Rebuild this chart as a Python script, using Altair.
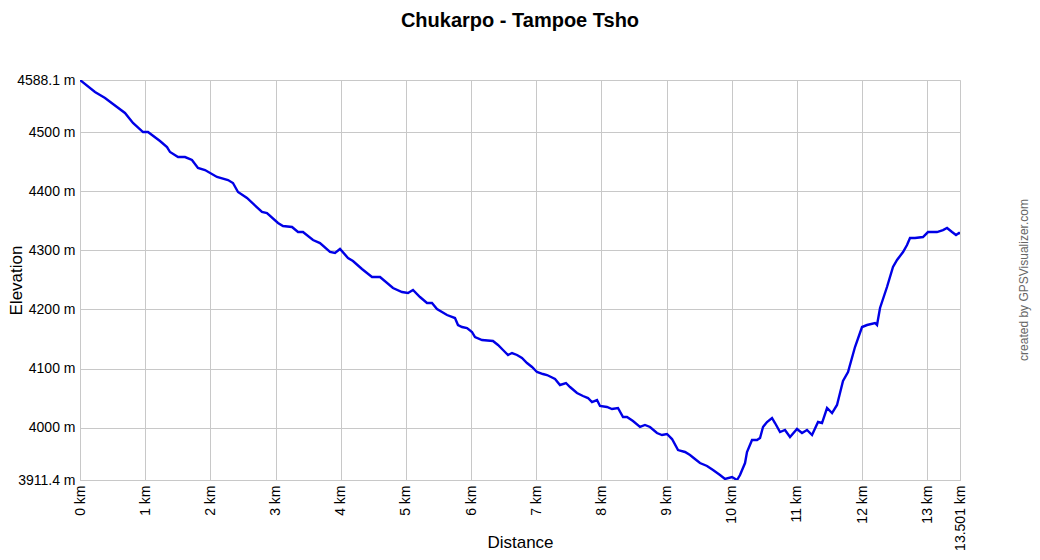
import altair as alt
import pandas as pd

distance_km = [0.000, 0.230, 0.384, 0.506, 0.690, 0.813, 0.967, 1.043, 1.227, 1.335,
               1.381, 1.504, 1.611, 1.718, 1.810, 1.918, 2.102, 2.271, 2.347, 2.424,
               2.562, 2.792, 2.869, 3.038, 3.114, 3.253, 3.345, 3.421, 3.575, 3.682,
               3.836, 3.912, 3.989, 4.112, 4.188, 4.326, 4.480, 4.603, 4.802, 4.940,
               5.032, 5.109, 5.216, 5.324, 5.400, 5.477, 5.631, 5.753, 5.799, 5.861,
               5.938, 6.014, 6.060, 6.168, 6.336, 6.413, 6.490, 6.567, 6.628, 6.705,
               6.781, 6.858, 6.935, 7.011, 7.103, 7.165, 7.288, 7.364, 7.456, 7.518,
               7.625, 7.717, 7.794, 7.855, 7.932, 7.978, 8.085, 8.162, 8.254, 8.331,
               8.392, 8.484, 8.592, 8.668, 8.745, 8.852, 8.929, 9.006, 9.083, 9.175,
               9.282, 9.359, 9.435, 9.512, 9.620, 9.712, 9.819, 9.896, 10.003, 10.080,
               10.126, 10.203, 10.233, 10.310, 10.387, 10.433, 10.479, 10.540, 10.617, 10.663,
               10.740, 10.816, 10.893, 11.000, 11.077, 11.154, 11.231, 11.323, 11.384, 11.461,
               11.538, 11.614, 11.660, 11.706, 11.783, 11.890, 11.998, 12.075, 12.197, 12.228,
               12.274, 12.381, 12.473, 12.535, 12.627, 12.688, 12.734, 12.811, 12.933, 13.010,
               13.148, 13.240, 13.302, 13.379, 13.440, 13.486, 13.501]

elevation_m = [4588.1, 4567.8, 4557.6, 4547.5, 4532.3, 4515.4, 4500.1, 4500.1, 4484.9, 4474.7,
               4466.3, 4457.8, 4457.8, 4452.8, 4439.2, 4435.8, 4424.0, 4418.9, 4413.8, 4398.6,
               4388.5, 4364.8, 4363.1, 4346.2, 4341.1, 4339.4, 4330.9, 4330.9, 4317.4, 4312.3,
               4297.1, 4295.4, 4302.2, 4287.0, 4281.9, 4268.4, 4254.8, 4254.8, 4236.2, 4229.4,
               4227.8, 4232.8, 4221.0, 4210.8, 4210.8, 4200.7, 4190.5, 4185.4, 4173.6, 4170.2,
               4168.5, 4161.8, 4153.3, 4148.2, 4146.5, 4139.8, 4131.3, 4122.9, 4126.2, 4122.9,
               4117.8, 4109.3, 4102.6, 4094.1, 4090.7, 4089.0, 4082.3, 4072.1, 4075.5, 4068.7,
               4058.6, 4053.5, 4050.1, 4043.3, 4046.7, 4036.6, 4034.9, 4031.5, 4033.2, 4018.0,
               4018.0, 4011.2, 4001.1, 4004.5, 4001.1, 3990.9, 3987.5, 3989.2, 3980.7, 3962.1,
               3958.8, 3953.7, 3946.9, 3940.1, 3935.1, 3928.3, 3919.8, 3913.1, 3916.5, 3911.4,
               3919.8, 3940.1, 3958.8, 3979.1, 3979.1, 3982.5, 4001.1, 4009.5, 4016.3, 4007.8,
               3992.6, 3996.0, 3984.1, 3997.7, 3990.9, 3996.0, 3987.5, 4009.5, 4007.8, 4033.2,
               4024.7, 4038.3, 4058.6, 4078.9, 4094.1, 4136.4, 4170.2, 4173.6, 4177.0, 4173.6,
               4202.4, 4237.9, 4271.7, 4283.6, 4297.1, 4308.9, 4320.8, 4320.8, 4322.5, 4330.9,
               4330.9, 4334.3, 4337.7, 4330.9, 4325.9, 4329.2, 4328.0]

x_ticks = [0, 1, 2, 3, 4, 5, 6, 7, 8, 9, 10, 11, 12, 13, 13.501]
y_ticks = [3911.4, 4000, 4100, 4200, 4300, 4400, 4500, 4588.1]

df = pd.DataFrame({"km": distance_km, "elev": elevation_m})

FONT = "Liberation Sans"
GRID = "#c8c8c8"
W, H = 880, 400

line = alt.Chart(df).mark_line(color="#0000e6", strokeWidth=2.4, clip=True).encode(
    x=alt.X("km:Q",
            scale=alt.Scale(domain=[0, 13.501], nice=False, zero=False),
            axis=alt.Axis(values=x_ticks, labelExpr="datum.value + ' km'",
                          labelAngle=270, labelFontSize=14, labelColor="#000000",
                          labelFont=FONT, labelPadding=5, ticks=False,
                          grid=True, gridColor=GRID, domainColor=GRID,
                          title="Distance", titleFont=FONT, titleFontSize=17,
                          titleFontWeight="normal", titleColor="#000000",
                          titleY=71, titleBaseline="bottom", labelOverlap=False)),
    y=alt.Y("elev:Q",
            scale=alt.Scale(domain=[3911.4, 4588.1], nice=False, zero=False),
            axis=alt.Axis(values=y_ticks, labelExpr="datum.value + ' m'",
                          labelFontSize=14, labelColor="#000000", labelFont=FONT,
                          labelPadding=5, ticks=False, grid=True, gridColor=GRID,
                          domainColor=GRID, title="Elevation", titleFont=FONT,
                          titleFontSize=17, titleFontWeight="normal",
                          titleColor="#000000", titleX=-55, titleBaseline="bottom",
                          labelOverlap=False)),
)

credit = alt.Chart(pd.DataFrame({"t": ["created by GPSVisualizer.com"]})).mark_text(
    angle=270, font=FONT, fontSize=12, color="#666666", align="center", baseline="middle"
).encode(x=alt.value(W + 64), y=alt.value(200), text="t:N")

chart = alt.layer(line, credit).properties(
    width=W, height=H,
    title=alt.TitleParams("Chukarpo - Tampoe Tsho", font=FONT, fontSize=20,
                          fontWeight="bold", color="#000000", offset=42),
    autosize=alt.AutoSizeParams(type="none"),
    padding={"left": 72, "top": 72, "right": 72, "bottom": 72},
).configure_view(stroke=None).configure(background="white")

chart.save("out.html", embed_options={"renderer": "svg", "actions": False})
